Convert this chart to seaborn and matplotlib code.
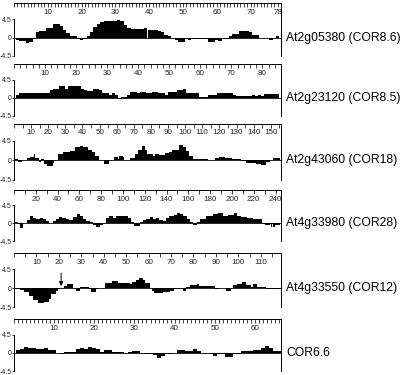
import numpy as np
import pandas as pd
import matplotlib
matplotlib.use("Agg")
import matplotlib.pyplot as plt
import matplotlib.transforms as mtransforms
from matplotlib.ticker import MultipleLocator, FixedLocator
import seaborn as sns

# ---------------- data (hydropathy per residue) ----------------
names = ["At2g05380 (COR8.6)", "At2g23120 (COR8.5)", "At2g43060 (COR18)",
         "At4g33980 (COR28)", "At4g33550 (COR12)", "COR6.6"]

cor86 = [-0.6,-0.9,-0.9,-1.4,-1.0,-0.3,1.4,1.6,1.6,2.2,
         2.3,3.2,3.4,2.8,1.9,1.0,0.3,0.3,-0.3,-0.5,
         -0.3,0.3,1.4,2.6,3.2,3.8,4.0,4.0,4.0,4.0,
         4.2,4.1,3.0,2.4,2.1,2.1,2.1,2.1,2.4,1.9,
         1.9,1.9,1.5,1.3,0.6,0.3,0.0,-0.6,-1.0,-1.2,
         -0.4,-0.5,-0.4,-0.4,-0.4,-0.4,-0.4,-1.2,-1.2,-0.5,
         -0.8,-0.3,-0.3,0.4,0.9,0.9,1.6,1.6,1.6,1.3,
         0.5,0.5,0.0,-0.2,-0.2,-0.5,0.0,0.3]

cor85 = [0.7,1.1,1.1,1.1,1.3,1.3,1.3,1.3,1.3,1.3,
         1.3,1.9,2.3,2.3,2.9,2.9,2.3,2.9,2.9,2.9,
         2.9,2.1,1.9,1.7,1.7,2.3,2.3,1.9,1.1,1.1,
         0.7,1.1,0.6,-0.4,0.2,0.2,0.7,1.5,1.5,1.2,
         1.5,1.5,1.2,1.2,1.5,1.5,1.1,1.1,0.7,1.5,
         1.5,1.5,1.9,1.9,2.3,1.2,1.2,1.1,1.1,0.2,
         0.2,0.2,0.7,0.8,0.8,1.2,1.2,1.2,1.2,1.2,
         0.8,0.4,0.4,0.4,0.4,0.4,0.8,0.4,0.8,0.4,
         1.0,1.0,1.0,1.0,1.0]

cor18 = [0.3,0.3,-0.3,-0.3,0.2,0.2,0.2,0.5,0.5,0.8,
         0.8,1.5,0.5,0.5,-0.3,0.3,0.3,-0.7,-0.7,-1.2,
         -1.2,-1.2,-0.5,0.2,0.2,1.5,1.5,1.5,2.0,2.0,
         2.0,2.0,2.2,2.2,2.2,3.0,3.0,3.0,3.4,3.4,
         3.0,3.0,3.0,2.4,2.4,1.9,1.9,1.0,1.0,0.2,
         0.2,0.2,-0.7,-0.7,-0.7,0.0,0.0,0.0,0.7,0.7,
         0.3,1.1,1.1,0.8,0.1,0.1,0.1,0.5,0.5,0.5,
         1.5,1.5,2.4,2.4,3.4,3.4,2.4,1.4,1.4,1.4,
         1.4,1.0,1.5,1.5,1.2,1.2,1.2,1.2,1.8,1.8,
         2.0,2.0,2.3,2.3,2.4,2.4,3.5,3.5,3.0,3.0,
         2.2,2.2,1.0,1.0,0.4,0.4,0.4,0.4,0.4,0.4,
         0.3,0.3,0.3,0.1,0.1,0.1,0.1,0.6,0.6,0.8,
         0.8,0.8,0.8,0.6,0.6,0.6,0.6,0.3,0.3,0.3,
         0.3,0.3,-0.2,-0.2,-0.2,-0.6,-0.6,-0.6,-0.6,-0.5,
         -0.5,-0.8,-0.8,-0.8,-1.0,-1.0,-1.0,-0.3,-0.3,0.0,
         0.0,0.5,0.5,0.5,0.5]

cor28 = [0.2,0.2,0.2,-0.3,-0.3,-1.2,-1.2,-1.2,0.0,0.0,
         0.0,0.8,0.8,0.8,1.7,1.7,1.7,1.3,1.3,1.3,
         1.0,1.0,1.0,1.4,1.4,1.4,1.0,1.0,1.0,0.5,
         0.5,0.5,0.1,0.1,0.1,0.6,0.6,0.6,1.0,1.0,
         1.0,1.6,1.6,1.6,1.4,1.4,1.4,1.1,1.1,1.1,
         0.9,0.9,0.9,0.9,1.6,1.6,1.6,2.3,2.3,2.3,
         1.8,1.8,1.8,1.1,1.1,1.1,0.5,0.5,0.5,0.3,
         0.3,0.3,-0.4,-0.4,-0.4,-0.9,-0.9,-0.9,-0.5,-0.5,
         -0.5,0.0,0.0,0.0,1.2,1.2,1.2,1.7,1.7,1.7,
         1.4,1.4,1.4,1.9,1.9,1.9,1.8,1.8,1.8,1.9,
         1.9,1.9,1.9,1.9,1.3,1.3,1.3,0.4,0.4,0.4,
         -0.6,-0.6,-0.6,-0.6,-0.6,0.2,0.2,0.2,0.9,0.9,
         0.9,1.1,1.1,1.1,1.5,1.5,1.5,1.0,1.0,1.0,
         1.4,1.4,1.4,0.8,0.8,0.8,0.5,0.5,0.5,1.2,
         1.2,1.2,1.8,1.8,1.8,1.8,2.1,2.1,2.1,2.6,
         2.6,2.6,2.4,2.4,2.4,1.7,1.7,1.7,1.0,1.0,
         1.0,0.2,0.2,0.2,-0.5,-0.5,-0.5,0.2,0.2,0.2,
         1.0,1.0,1.0,1.0,1.0,1.0,1.7,1.7,1.7,1.7,
         1.7,1.7,2.3,2.3,2.3,2.3,2.3,2.6,2.6,2.6,
         2.6,1.9,1.9,1.9,1.9,1.9,2.2,2.2,2.2,2.2,
         2.2,2.6,2.6,2.6,1.9,1.9,1.9,1.9,1.5,1.5,
         1.5,1.5,1.5,1.2,1.2,1.2,1.2,1.2,1.2,1.0,
         1.0,1.0,1.0,1.0,1.0,1.0,1.0,-0.3,-0.3,-0.3,
         -0.5,-0.5,-0.5,-0.5,-0.3,-0.9,-0.3,-0.9,-0.9,-0.4,
         -0.4,-0.4,-0.4,-0.4]

cor12 = [-0.3,-0.3,-0.5,-0.5,-1.0,-1.0,-1.8,-1.8,-2.8,-2.8,
         -3.5,-3.5,-3.5,-3.2,-3.2,-2.5,-1.5,-1.5,-0.6,-0.3,
         0.0,0.0,0.5,0.9,0.9,0.9,0.0,-0.7,-0.7,0.2,
         0.2,0.2,0.2,-0.3,-1.0,-1.0,-0.3,0.0,0.0,0.0,
         1.2,1.2,1.2,1.6,1.8,1.8,1.3,1.3,1.2,1.2,
         1.2,1.0,1.5,1.5,2.0,2.4,2.4,2.0,1.3,1.3,
         0.0,-0.6,-1.2,-1.2,-1.2,-1.2,-0.9,-0.9,-0.9,-0.6,
         -0.6,-0.3,-0.3,-0.3,-0.3,-0.7,0.2,0.2,0.8,0.8,
         0.8,1.0,0.6,0.6,0.6,0.4,0.4,0.4,0.4,-0.3,
         -0.3,0.0,0.0,0.0,-0.6,-0.6,0.1,0.7,0.7,1.0,
         1.0,1.4,1.4,0.8,0.8,0.3,0.9,0.9,0.3,0.3,
         0.3,0.3,-0.1,-0.1,-0.3,-0.3,-0.3,-0.3]

cor66 = [0.8,1.0,1.4,1.1,1.3,1.0,1.0,1.2,0.8,0.8,
         0.0,-0.3,0.3,0.3,0.3,1.0,1.3,0.9,1.4,1.3,
         0.9,0.2,0.6,0.6,0.3,0.3,0.3,0.0,0.3,0.5,
         0.5,0.0,-0.2,-0.2,-0.5,-1.3,-0.7,-0.2,-0.2,0.0,
         0.7,0.7,0.5,0.5,1.0,0.4,0.0,0.0,-0.3,-0.9,
         -0.3,-0.3,-1.0,-1.0,-0.4,-0.2,0.4,0.4,0.4,0.7,
         0.7,1.3,1.6,1.1,0.5,0.5]

series = [cor86, cor85, cor18, cor28, cor12, cor66]

top_labels = [
    [10, 20, 30, 40, 50, 60, 70, 78],
    [10, 20, 30, 40, 50, 60, 70, 80],
    list(range(10, 151, 10)),
    list(range(20, 241, 20)),
    list(range(10, 111, 10)),
    [10, 20, 30, 40, 50, 60],
]
minor_steps = [1, 2, 5, 10, 5, 1]
xmax = [79, 86, 156, 245, 119, 66.5]

# panel pixel geometry: (top spine, -4.5 level)
geom = [(3, 56), (64, 116), (124, 180), (190, 241), (253, 307), (319, 371)]
ytop = 8.4

arrow_res = 21  # arrow marker in COR12 panel

# ---------------- figure ----------------
sns.set_style("white")
plt.rcParams["font.family"] = ["Liberation Sans", "DejaVu Sans"]

W, H = 400, 375
fig = plt.figure(figsize=(W / 100, H / 100), dpi=100)
fig.patch.set_facecolor("white")

x0, x1 = 14, 281
for i, (vals, name) in enumerate(zip(series, names)):
    top, bot = geom[i]
    ax = fig.add_axes([x0 / W, 1 - bot / H, (x1 - x0) / W, (bot - top) / H])
    df = pd.DataFrame({"res": np.arange(1, len(vals) + 1), "h": vals})
    sns.barplot(data=df, x="res", y="h", native_scale=True, color="black",
                width=1, linewidth=0, saturation=1, errorbar=None, ax=ax)
    ax.axhline(0, color="black", lw=0.6, zorder=0)
    ax.set_xlim(0, xmax[i])
    ax.set_ylim(-4.5, ytop)
    ax.set_xlabel("")
    ax.set_ylabel("")
    ax.set_facecolor("none")

    # top ruler
    ax.xaxis.set_major_locator(FixedLocator(top_labels[i]))
    ax.xaxis.set_minor_locator(MultipleLocator(minor_steps[i]))
    ax.set_xticklabels([str(v) for v in top_labels[i]])
    ax.tick_params(axis="x", which="both", top=True, bottom=False,
                   labeltop=True, labelbottom=False, direction="in",
                   length=3, width=0.6, pad=-9, labelsize=5.8)

    # y axis
    ax.set_yticks([-4.5, 0, 4.5])
    ax.set_yticklabels(["-4.5", "0", "4.5"])
    ax.tick_params(axis="y", which="both", left=True, direction="out",
                   length=1.5, width=0.6, pad=0.4, labelsize=5)

    for s in ["top", "right", "left"]:
        ax.spines[s].set_visible(True)
        ax.spines[s].set_color("black")
        ax.spines[s].set_linewidth(0.7)
    ax.spines["bottom"].set_visible(False)
    ax.spines["left"].set_bounds(-4.5, 4.5)

    trans = mtransforms.blended_transform_factory(ax.transAxes, ax.transData)
    ax.text((286 - x0) / (x1 - x0), 0, name, transform=trans, ha="left",
            va="center", fontsize=8.7, color="black", clip_on=False)

    if i == 4:
        ax.annotate("", xy=(arrow_res, 0.5), xytext=(arrow_res, 3.6),
                    arrowprops=dict(arrowstyle="-|>", color="black", lw=0.7,
                                    mutation_scale=6, shrinkA=0, shrinkB=0))

fig.savefig("out.png", dpi=100, facecolor="white")
